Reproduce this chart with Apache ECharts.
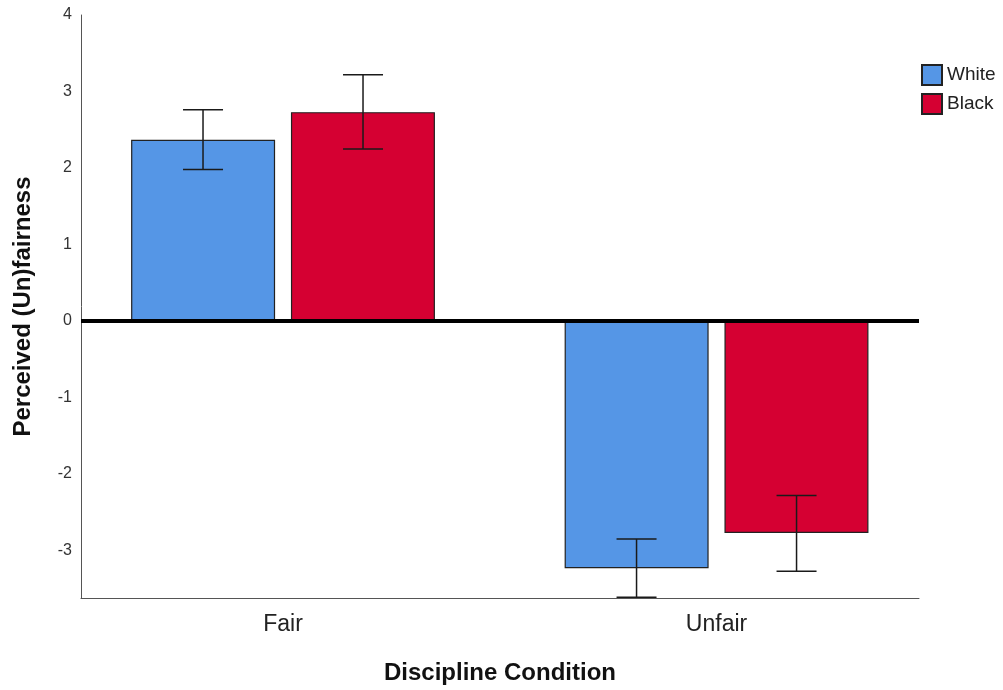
<!DOCTYPE html>
<html>
<head>
<meta charset="utf-8">
<script src="https://cdn.jsdelivr.net/npm/echarts@6/dist/echarts.min.js"></script>
<style>html,body{margin:0;padding:0;background:#fff}#c{width:1003px;height:690px}</style>
</head>
<body>
<div id="c"></div>
<script>
const categories = ['Fair', 'Unfair'];
const seriesNames = ['White', 'Black'];
const whiteMeans = [2.37, -3.23];
const blackMeans = [2.73, -2.77];
const whiteLow = [1.98, -3.61];
const whiteHigh = [2.76, -2.85];
const blackLow = [2.25, -3.27];
const blackHigh = [3.22, -2.28];
const yTicks = [-3, -2, -1, 0, 1, 2, 3, 4];

const FONT = '"Liberation Sans", Arial, sans-serif';
const BAR_W = 144;
const BAR_OFF = 80;

function barData(vals) { return vals.map((v, i) => [i, v]); }
function errData(lo, hi) { return lo.map((v, i) => [i, v, hi[i]]); }
function errRender(offset) {
  return function (params, api) {
    const x = api.value(0);
    const pLo = api.coord([x, api.value(1)]);
    const pHi = api.coord([x, api.value(2)]);
    const cx = pLo[0] + offset;
    const cap = 20;
    const style = { stroke: '#1a1a1a', lineWidth: 1.5 };
    return {
      type: 'group',
      children: [
        { type: 'line', shape: { x1: cx, y1: pLo[1], x2: cx, y2: pHi[1] }, style },
        { type: 'line', shape: { x1: cx - cap, y1: pLo[1], x2: cx + cap, y2: pLo[1] }, style },
        { type: 'line', shape: { x1: cx - cap, y1: pHi[1], x2: cx + cap, y2: pHi[1] }, style }
      ]
    };
  };
}

const chart = echarts.init(document.getElementById('c'));
chart.setOption({
  animation: false,
  backgroundColor: '#fff',
  textStyle: { fontFamily: FONT },
  grid: { left: 81, right: 84, top: 15, bottom: 92, containLabel: false },
  legend: {
    data: seriesNames,
    orient: 'vertical',
    left: 921, top: 64, padding: 0,
    itemWidth: 20, itemHeight: 20, itemGap: 7,
    icon: 'rect',
    textStyle: { fontSize: 19, color: '#222', fontFamily: FONT }
  },
  xAxis: {
    type: 'value',
    min: -0.466, max: 1.467,
    axisLine: { show: true, onZero: false, lineStyle: { color: '#555', width: 1 } },
    axisTick: { show: false },
    splitLine: { show: false },
    axisLabel: {
      customValues: [0, 1],
      formatter: v => categories[Math.round(v)],
      fontSize: 23, color: '#222', margin: 15, fontFamily: FONT
    },
    name: 'Discipline Condition',
    nameLocation: 'middle',
    nameGap: 63,
    nameTextStyle: { fontSize: 24, fontWeight: 'bold', color: '#111', fontFamily: FONT }
  },
  yAxis: {
    type: 'value',
    min: -3.62, max: 4,
    axisLine: { show: true, onZero: false, lineStyle: { color: '#555', width: 1 } },
    axisTick: { show: false },
    splitLine: { show: false },
    axisLabel: { customValues: yTicks, fontSize: 16, color: '#333', margin: 9, fontFamily: FONT },
    name: 'Perceived (Un)fairness',
    nameLocation: 'middle',
    nameGap: 46,
    nameTextStyle: { fontSize: 24, fontWeight: 'bold', color: '#111', fontFamily: FONT }
  },
  series: [
    {
      name: seriesNames[0], type: 'bar', data: barData(whiteMeans),
      barWidth: BAR_W, barGap: '11%',
      itemStyle: { color: '#5596e6', borderColor: '#222', borderWidth: 1.2 },
      markLine: {
        silent: true, symbol: 'none', label: { show: false },
        lineStyle: { color: '#000', width: 4, type: 'solid' },
        data: [{ yAxis: 0 }]
      }
    },
    {
      name: seriesNames[1], type: 'bar', data: barData(blackMeans),
      barWidth: BAR_W, barGap: '11%',
      itemStyle: { color: '#d50032', borderColor: '#222', borderWidth: 1.2 }
    },
    { name: 'White CI', type: 'custom', data: errData(whiteLow, whiteHigh), renderItem: errRender(-BAR_OFF), clip: true, z: 5 },
    { name: 'Black CI', type: 'custom', data: errData(blackLow, blackHigh), renderItem: errRender(BAR_OFF), clip: true, z: 5 }
  ]
});
</script>
</body>
</html>
